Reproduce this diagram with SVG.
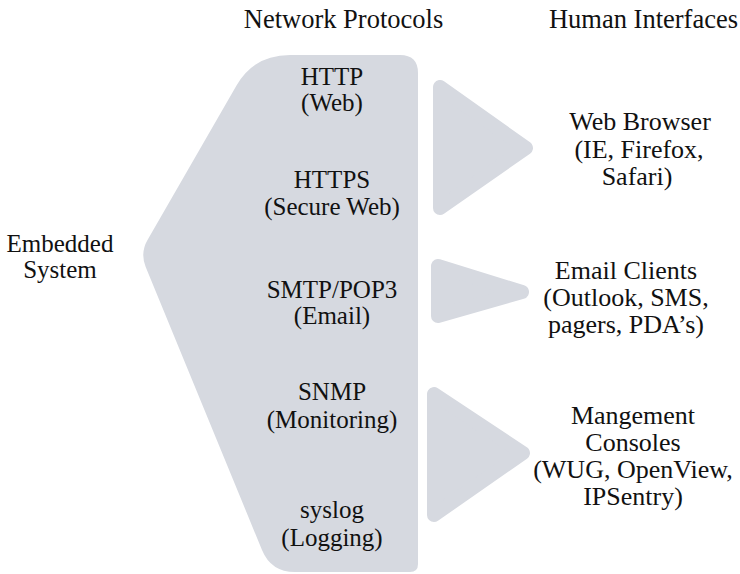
<svg xmlns="http://www.w3.org/2000/svg" width="740" height="574" viewBox="0 0 740 574">
<style>
.sh{fill:#d6d9e0}
.tri{fill:#d6d9e0;stroke:#d6d9e0;stroke-width:14;stroke-linejoin:round}
text{font-family:"Liberation Serif","DejaVu Serif",serif;font-size:25px;fill:#111;text-anchor:middle}
.hd{font-size:26.5px}
.rt{font-size:26px}
</style>
<rect width="740" height="574" fill="#fff"/>
<g id="headers">
<text class="hd" x="343.5" y="28">Network Protocols</text>
<text class="hd" x="643.5" y="28">Human Interfaces</text>
</g>
<g id="embedded">
<text x="60" y="252">Embedded</text>
<text x="60" y="278">System</text>
</g>
<g id="protocols">
<path class="sh" d="M290,55 L400,55 Q418,55 418,73 L418,564 Q418,572 410,572 L295,572 Q271,572 262,550 L145.7,267 Q140,253 147.5,240 L236.5,85.4 Q254,55 290,55 Z"/>
<text x="332" y="85">HTTP</text>
<text x="332" y="111">(Web)</text>
<text x="332" y="188">HTTPS</text>
<text x="332" y="215">(Secure Web)</text>
<text x="332" y="298">SMTP/POP3</text>
<text x="332" y="324">(Email)</text>
<text x="332" y="400">SNMP</text>
<text x="332" y="428">(Monitoring)</text>
<text x="332" y="518">syslog</text>
<text x="332" y="546">(Logging)</text>
</g>
<g id="connectors">
<polygon class="tri" points="440,87 440,208 526,148"/>
<polygon class="tri" points="438,266 438,316 522,292"/>
<polygon class="tri" points="434,394 434,515 523,453"/>
</g>
<g id="web-browser">
<text class="rt" x="640" y="130">Web Browser</text>
<text class="rt" x="639" y="158">(IE, Firefox,</text>
<text class="rt" x="637" y="185">Safari)</text>
</g>
<g id="email-clients">
<text class="rt" x="626" y="279">Email Clients</text>
<text class="rt" x="626" y="306">(Outlook, SMS,</text>
<text class="rt" x="626" y="333">pagers, PDA’s)</text>
</g>
<g id="management">
<text class="rt" x="633" y="424">Mangement</text>
<text class="rt" x="633" y="451">Consoles</text>
<text class="rt" x="633" y="478">(WUG, OpenView,</text>
<text class="rt" x="633" y="505">IPSentry)</text>
</g>
</svg>
